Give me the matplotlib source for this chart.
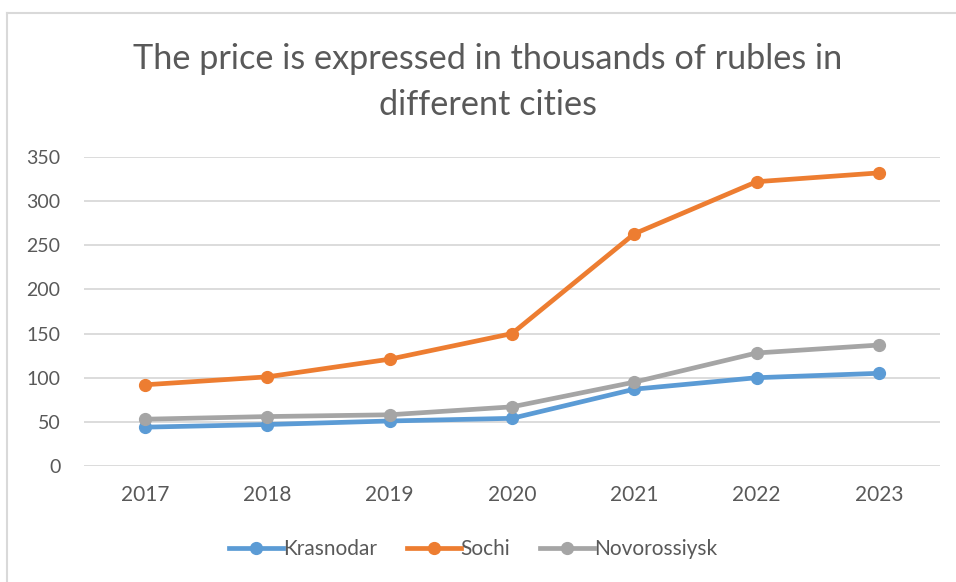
import matplotlib
matplotlib.use("Agg")
import matplotlib.pyplot as plt
from matplotlib.lines import Line2D

years = ["2017", "2018", "2019", "2020", "2021", "2022", "2023"]
krasnodar = [44, 47, 51, 54, 87, 100, 105]
sochi = [92, 101, 121, 150, 263, 322, 332]
novorossiysk = [53, 56, 58, 67, 95, 128, 137]
series_names = ["Krasnodar", "Sochi", "Novorossiysk"]
colors = ["#5B9BD5", "#ED7D31", "#A5A5A5"]
title = "The price is expressed in thousands of rubles in\ndifferent cities"

plt.rcParams['font.family'] = ['Lato', 'DejaVu Sans']
text_color = "#595959"

W, H = 956, 582
fig = plt.figure(figsize=(W / 100, H / 100), dpi=100)
ax = fig.add_axes([84 / W, 1 - 466 / H, (940 - 84) / W, (466 - 157) / H])

x = list(range(len(years)))
for vals, name, c in zip([krasnodar, sochi, novorossiysk], series_names, colors):
    ax.plot(x, vals, color=c, lw=3.4, marker='o', ms=8.5, label=name,
            solid_capstyle='round', solid_joinstyle='round')

ax.set_xlim(-0.5, len(years) - 0.5)
ax.set_ylim(0, 350)
ax.set_yticks(range(0, 351, 50))
ax.set_xticks(x)
ax.set_xticklabels(years)
ax.yaxis.grid(True, color="#D9D9D9", lw=1.3)
ax.set_axisbelow(True)
for s in ax.spines.values():
    s.set_visible(False)
ax.tick_params(axis='both', length=0, labelsize=15, labelcolor=text_color)
ax.tick_params(axis='y', pad=17)
ax.tick_params(axis='x', pad=14)
for lab in ax.get_yticklabels():
    lab.set_fontsize(14)

fig.text(488 / W, 1 - 43 / H, title, ha='center', va='top', fontsize=24.7,
         color=text_color, linespacing=1.55)

handles = [Line2D([0], [0], color=c, lw=3.4, marker='o', ms=8.5) for c in colors]
fig.legend(handles, series_names, loc='center', bbox_to_anchor=(473 / W, 1 - 549 / H),
           ncol=3, frameon=False, fontsize=15, labelcolor=text_color,
           handlelength=2.6, handletextpad=0.0, columnspacing=1.4)

# chart border (left and top edges visible)
fig.add_artist(Line2D([7 / W, 7 / W], [0, 1 - 13 / H], transform=fig.transFigure,
                      color="#D9D9D9", lw=1.5))
fig.add_artist(Line2D([7 / W, 1], [1 - 13 / H, 1 - 13 / H], transform=fig.transFigure,
                      color="#D9D9D9", lw=1.5))

fig.savefig("out.png", dpi=100)
